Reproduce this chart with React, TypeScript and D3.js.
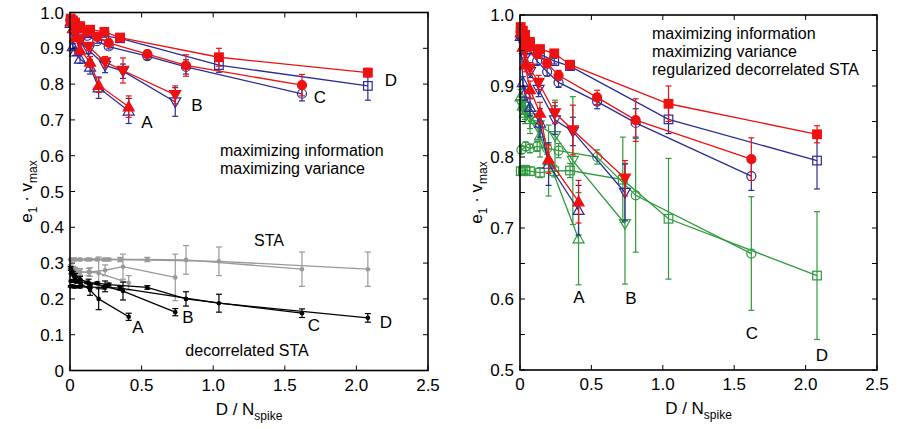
import React from "react";
import * as d3 from "d3";

const width = 898;
const height = 429;
const font = "'Liberation Sans', Arial, Helvetica, sans-serif";

const RED = "#ee1111";
const BLUE = "#2b2b95";
const GRAY = "#999999";
const BLACK = "#000000";
const GREEN = "#2f9a3f";

// x positions (D / N_spike) of the four data sets
const xA = [0.005, 0.02, 0.035, 0.07, 0.14, 0.2, 0.41];
const xB = [0.01, 0.035, 0.07, 0.13, 0.245, 0.37, 0.735];
const xC = [0.01, 0.04, 0.07, 0.12, 0.19, 0.27, 0.54, 0.81, 1.62];
const xD = [0.005, 0.02, 0.035, 0.07, 0.14, 0.24, 0.35, 1.04, 2.08];
const xRegD = [0.005, 0.02, 0.035, 0.07, 0.14, 0.24, 0.35, 0.72, 1.04, 2.08];

// maximizing information (red, filled)
const infoA = [0.975, 0.955, 0.93, 0.895, 0.862, 0.797, 0.737];
const infoAErr = [0.005, 0.008, 0.01, 0.012, 0.015, 0.02, 0.03];
const infoB = [0.97, 0.95, 0.925, 0.905, 0.862, 0.838, 0.77];
const infoBErr = [0.004, 0.006, 0.008, 0.01, 0.015, 0.035, 0.025];
const infoC = [0.975, 0.965, 0.955, 0.945, 0.932, 0.915, 0.884, 0.852, 0.797];
const infoCErr = [0.003, 0.003, 0.004, 0.005, 0.006, 0.007, 0.01, 0.03, 0.03];
const infoD = [0.983, 0.978, 0.972, 0.962, 0.952, 0.946, 0.93, 0.875, 0.832];
const infoDErr = [0.002, 0.002, 0.003, 0.003, 0.004, 0.004, 0.005, 0.025, 0.012];

// maximizing variance (blue, open)
const varA = [0.97, 0.905, 0.89, 0.87, 0.848, 0.79, 0.725];
const varAErr = [0.005, 0.008, 0.01, 0.012, 0.02, 0.03, 0.035];
const varB = [0.965, 0.94, 0.92, 0.895, 0.852, 0.836, 0.75];
const varBErr = [0.004, 0.006, 0.008, 0.01, 0.02, 0.02, 0.04];
const varC = [0.97, 0.96, 0.95, 0.935, 0.92, 0.905, 0.878, 0.848, 0.773];
const varCErr = [0.003, 0.003, 0.004, 0.005, 0.006, 0.007, 0.01, 0.02, 0.02];
const varD = [0.978, 0.972, 0.965, 0.958, 0.945, 0.935, 0.928, 0.853, 0.795];
const varDErr = [0.002, 0.002, 0.003, 0.003, 0.004, 0.004, 0.005, 0.02, 0.04];

// STA (gray)
const staA = [0.29, 0.285, 0.28, 0.275, 0.275, 0.272, 0.245];
const staAErr = [0.005, 0.006, 0.008, 0.01, 0.012, 0.045, 0.02];
const staB = [0.285, 0.28, 0.275, 0.275, 0.28, 0.29, 0.26];
const staBErr = [0.005, 0.006, 0.008, 0.01, 0.015, 0.035, 0.065];
const staC = [0.31, 0.31, 0.31, 0.31, 0.31, 0.31, 0.31, 0.309, 0.283];
const staCErr = [0.002, 0.002, 0.002, 0.003, 0.003, 0.004, 0.006, 0.04, 0.048];
const staD = [0.31, 0.31, 0.31, 0.31, 0.31, 0.31, 0.31, 0.305, 0.283];
const staDErr = [0.002, 0.002, 0.002, 0.003, 0.003, 0.004, 0.006, 0.04, 0.048];

// decorrelated STA (black)
const decA = [0.285, 0.27, 0.255, 0.245, 0.225, 0.2, 0.15];
const decAErr = [0.005, 0.006, 0.008, 0.01, 0.015, 0.03, 0.01];
const decB = [0.275, 0.265, 0.255, 0.245, 0.235, 0.222, 0.163];
const decBErr = [0.005, 0.006, 0.008, 0.01, 0.015, 0.025, 0.01];
const decC = [0.25, 0.248, 0.247, 0.246, 0.244, 0.24, 0.232, 0.2, 0.16];
const decCErr = [0.002, 0.002, 0.003, 0.003, 0.003, 0.004, 0.005, 0.02, 0.012];
const decD = [0.235, 0.235, 0.234, 0.234, 0.233, 0.232, 0.23, 0.188, 0.147];
const decDErr = [0.002, 0.002, 0.003, 0.003, 0.003, 0.004, 0.005, 0.025, 0.012];

// regularized decorrelated STA (green, open)
const regA = [0.885, 0.872, 0.862, 0.853, 0.83, 0.795, 0.685];
const regAErr = [0.01, 0.012, 0.015, 0.02, 0.03, 0.05, 0.065];
const regB = [0.875, 0.865, 0.855, 0.845, 0.83, 0.795, 0.706];
const regBErr = [0.01, 0.012, 0.015, 0.02, 0.05, 0.09, 0.085];
const regC = [0.81, 0.815, 0.812, 0.815, 0.812, 0.809, 0.8, 0.746, 0.664];
const regCErr = [0.005, 0.006, 0.006, 0.007, 0.008, 0.01, 0.01, 0.08, 0.08];
const regD = [0.78, 0.78, 0.782, 0.78, 0.778, 0.78, 0.781, 0.768, 0.713, 0.633];
const regDErr = [0.005, 0.005, 0.006, 0.006, 0.007, 0.008, 0.01, 0.06, 0.085, 0.09];

const xTicks = [0, 0.5, 1.0, 1.5, 2.0, 2.5];

type Shape = "up" | "down" | "circle" | "square" | "dot";
type Series = {
  x: number[];
  y: number[];
  err: number[];
  color: string;
  shape: Shape;
  filled: boolean;
};

function mk(x: number[], y: number[], err: number[], color: string, shape: Shape, filled: boolean): Series {
  return { x, y, err, color, shape, filled };
}

const topGroup = (): Series[] => [
  mk(xA, varA, varAErr, BLUE, "up", false),
  mk(xB, varB, varBErr, BLUE, "down", false),
  mk(xC, varC, varCErr, BLUE, "circle", false),
  mk(xD, varD, varDErr, BLUE, "square", false),
  mk(xA, infoA, infoAErr, RED, "up", true),
  mk(xB, infoB, infoBErr, RED, "down", true),
  mk(xC, infoC, infoCErr, RED, "circle", true),
  mk(xD, infoD, infoDErr, RED, "square", true),
];

const leftSeries: Series[] = [
  mk(xA, staA, staAErr, GRAY, "dot", true),
  mk(xB, staB, staBErr, GRAY, "dot", true),
  mk(xC, staC, staCErr, GRAY, "dot", true),
  mk(xD, staD, staDErr, GRAY, "dot", true),
  mk(xA, decA, decAErr, BLACK, "dot", true),
  mk(xB, decB, decBErr, BLACK, "dot", true),
  mk(xC, decC, decCErr, BLACK, "dot", true),
  mk(xD, decD, decDErr, BLACK, "dot", true),
  ...topGroup(),
];

const rightSeries: Series[] = [
  mk(xA, regA, regAErr, GREEN, "up", false),
  mk(xB, regB, regBErr, GREEN, "down", false),
  mk(xC, regC, regCErr, GREEN, "circle", false),
  mk(xRegD, regD, regDErr, GREEN, "square", false),
  ...topGroup(),
];

function Marker({ cx, cy, s }: { cx: number; cy: number; s: Series }) {
  const fill = s.filled ? s.color : "none";
  const sw = 1.2;
  if (s.shape === "dot") return <circle cx={cx} cy={cy} r={2.3} fill={s.color} />;
  if (s.shape === "circle") return <circle cx={cx} cy={cy} r={4.5} fill={fill} stroke={s.color} strokeWidth={sw} />;
  if (s.shape === "square")
    return <rect x={cx - 4.3} y={cy - 4.3} width={8.6} height={8.6} fill={fill} stroke={s.color} strokeWidth={sw} />;
  const h = 5.5;
  const pts =
    s.shape === "up"
      ? [[cx, cy - h], [cx - h, cy + h * 0.75], [cx + h, cy + h * 0.75]]
      : [[cx, cy + h], [cx - h, cy - h * 0.75], [cx + h, cy - h * 0.75]];
  return <polygon points={pts.map((p) => p.join(",")).join(" ")} fill={fill} stroke={s.color} strokeWidth={sw} />;
}

type Label = { text: string; x: number; y: number; anchor?: string };

function Panel({
  x0, x1, yTop, yBot, yDomain, yTicks, yMinor, yFormat, series, letters, notes,
}: {
  x0: number; x1: number; yTop: number; yBot: number; yDomain: [number, number];
  yTicks: number[]; yMinor: number[]; yFormat: (v: number) => string;
  series: Series[]; letters: Label[]; notes: Label[];
}) {
  const x = d3.scaleLinear().domain([0, 2.5]).range([x0, x1]);
  const y = d3.scaleLinear().domain(yDomain).range([yBot, yTop]);
  const line = d3.line<[number, number]>().x((d) => x(d[0])).y((d) => y(d[1]));
  const tl = 5;
  const cx = (x0 + x1) / 2;
  const cy = (yTop + yBot) / 2;
  return (
    <g>
      {series.map((s, i) => {
        const pts = s.x.map((v, j) => [v, s.y[j]] as [number, number]);
        return (
          <g key={i}>
            <path d={line(pts) || ""} fill="none" stroke={s.color} strokeWidth={1.3} />
            {pts.map((p, j) => {
              const px = x(p[0]);
              const e = s.err[j];
              return (
                <g key={j} stroke={s.color} strokeWidth={1.2}>
                  <line x1={px} x2={px} y1={y(p[1] - e)} y2={y(p[1] + e)} />
                  <line x1={px - 3} x2={px + 3} y1={y(p[1] - e)} y2={y(p[1] - e)} />
                  <line x1={px - 3} x2={px + 3} y1={y(p[1] + e)} y2={y(p[1] + e)} />
                </g>
              );
            })}
            {pts.map((p, j) => (
              <Marker key={"m" + j} cx={x(p[0])} cy={y(p[1])} s={s} />
            ))}
          </g>
        );
      })}
      {/* frame and ticks */}
      <rect x={x0} y={yTop} width={x1 - x0} height={yBot - yTop} fill="none" stroke="#000" strokeWidth={1.6} />
      {xTicks.map((t) => (
        <g key={"xt" + t}>
          <line x1={x(t)} x2={x(t)} y1={yBot} y2={yBot - tl} stroke="#000" strokeWidth={1} />
          <line x1={x(t)} x2={x(t)} y1={yTop} y2={yTop + tl} stroke="#000" strokeWidth={1} />
          <text x={x(t)} y={yBot + 20} textAnchor="middle" fontSize={17} fontFamily={font}>
            {t === 0 ? "0" : t.toFixed(1)}
          </text>
        </g>
      ))}
      {yMinor.map((t) => (
        <g key={"ym" + t}>
          <line x1={x0} x2={x0 + tl} y1={y(t)} y2={y(t)} stroke="#000" strokeWidth={1} />
          <line x1={x1} x2={x1 - tl} y1={y(t)} y2={y(t)} stroke="#000" strokeWidth={1} />
        </g>
      ))}
      {yTicks.map((t) => (
        <text key={"yl" + t} x={x0 - 6} y={y(t) + 6} textAnchor="end" fontSize={17} fontFamily={font}>
          {yFormat(t)}
        </text>
      ))}
      <text x={cx} y={yBot + 44} textAnchor="middle" fontSize={17} fontFamily={font}>
        D / N<tspan fontSize={12} dy={5}>spike</tspan>
      </text>
      <text transform={`translate(${x0 - 38},${cy}) rotate(-90)`} textAnchor="middle" fontSize={17} fontFamily={font}>
        e<tspan fontSize={12} dy={5}>1</tspan>
        <tspan dy={-5}>{"  \u00b7  v"}</tspan>
        <tspan fontSize={12} dy={5}>max</tspan>
      </text>
      {letters.map((l, i) => (
        <text key={"l" + i} x={l.x} y={l.y} fontSize={17} fontFamily={font} textAnchor="middle">
          {l.text}
        </text>
      ))}
      {notes.map((l, i) => (
        <text key={"n" + i} x={l.x} y={l.y} fontSize={16} fontFamily={font} textAnchor={l.anchor || "start"}>
          {l.text}
        </text>
      ))}
    </g>
  );
}

export default function App() {
  const leftTicks = d3.range(0, 11).map((i) => i / 10);
  const rightTicks = d3.range(5, 11).map((i) => i / 10);
  const rightMinor = d3.range(10, 21).map((i) => i / 20);
  return (
    <svg width={width} height={height} style={{ display: "block", position: "absolute", left: 0, top: 0 }}>
      <Panel
        x0={70} x1={428} yTop={12.5} yBot={370.5} yDomain={[0, 1]}
        yTicks={leftTicks} yMinor={leftTicks}
        yFormat={(v) => (v === 0 ? "0" : v.toFixed(1))}
        series={leftSeries}
        letters={[
          { text: "A", x: 147, y: 128 }, { text: "B", x: 197, y: 111 },
          { text: "C", x: 320, y: 103 }, { text: "D", x: 391, y: 86 },
          { text: "A", x: 138, y: 333 }, { text: "B", x: 188, y: 323 },
          { text: "C", x: 314, y: 331 }, { text: "D", x: 386, y: 328 },
        ]}
        notes={[
          { text: "maximizing information", x: 220, y: 156 },
          { text: "maximizing variance", x: 220, y: 174 },
          { text: "STA", x: 254, y: 246 },
          { text: "decorrelated STA", x: 247, y: 356, anchor: "middle" },
        ]}
      />
      <Panel
        x0={520} x1={877} yTop={15} yBot={370} yDomain={[0.5, 1]}
        yTicks={rightTicks} yMinor={rightMinor}
        yFormat={(v) => v.toFixed(1)}
        series={rightSeries}
        letters={[
          { text: "A", x: 579, y: 303 }, { text: "B", x: 631, y: 304 },
          { text: "C", x: 752, y: 339 }, { text: "D", x: 822, y: 361 },
        ]}
        notes={[
          { text: "maximizing information", x: 652, y: 39 },
          { text: "maximizing variance", x: 652, y: 57 },
          { text: "regularized decorrelated STA", x: 652, y: 75 },
        ]}
      />
    </svg>
  );
}
